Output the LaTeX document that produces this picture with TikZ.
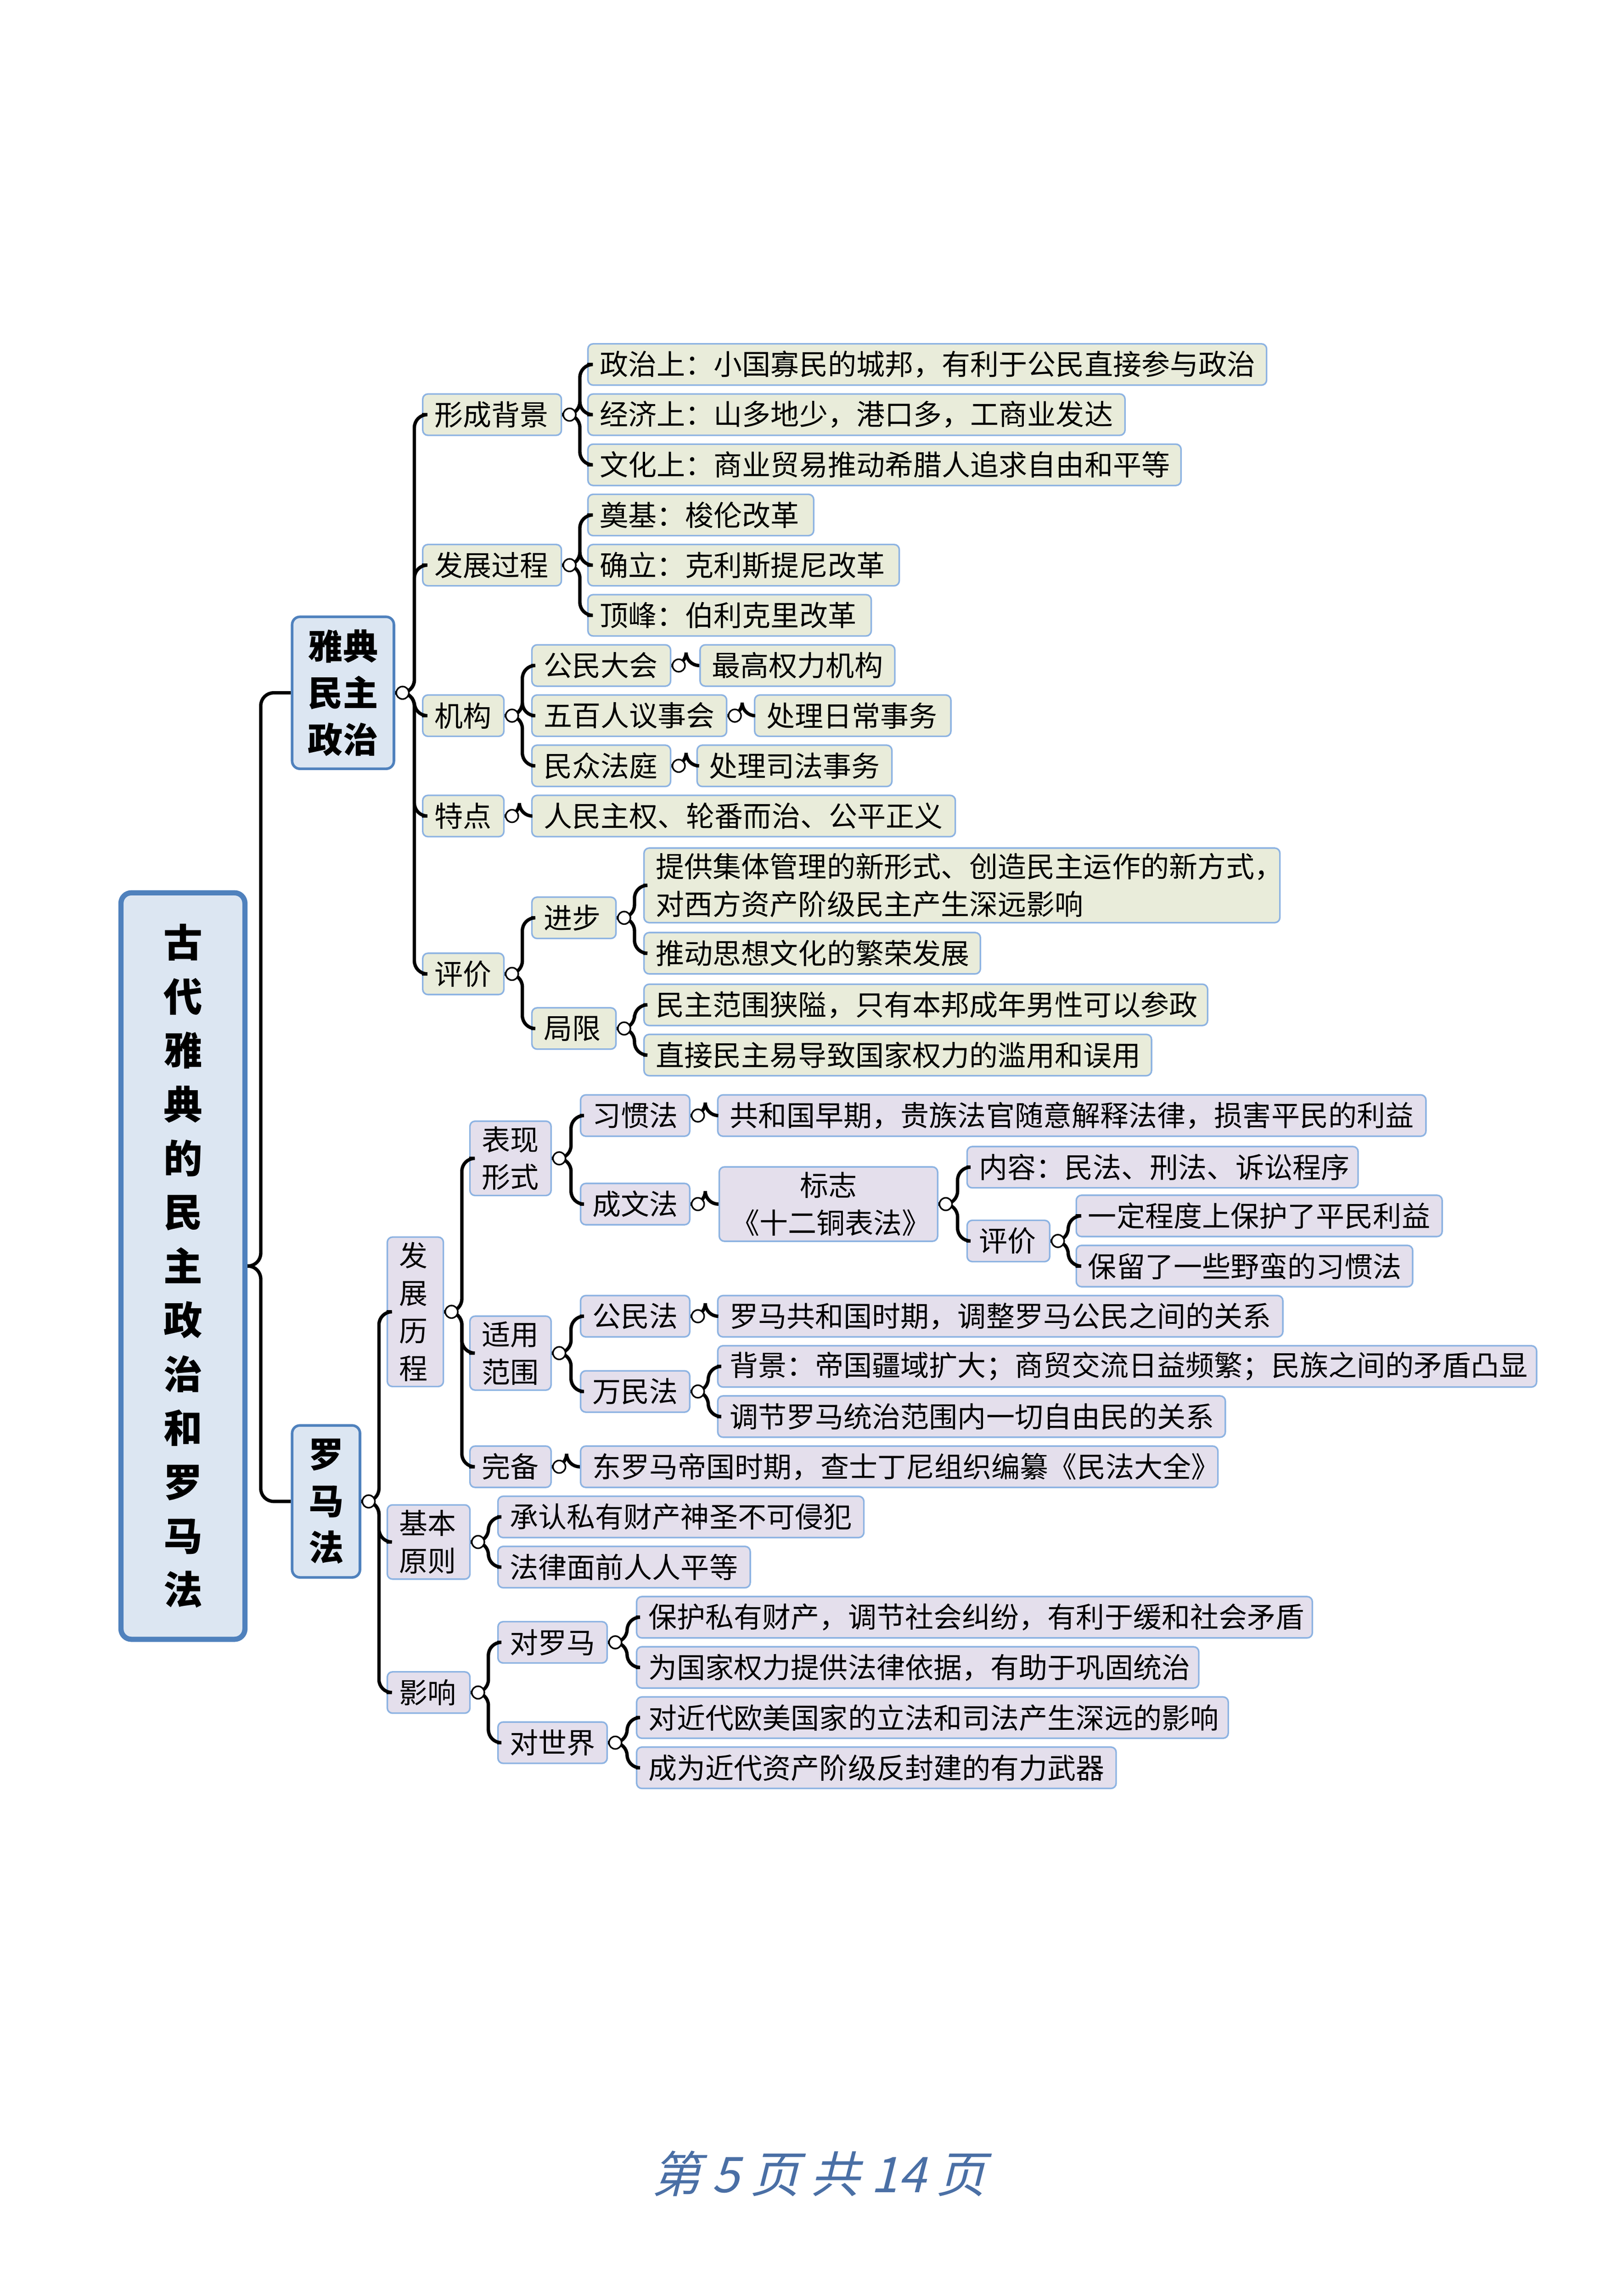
\documentclass[tikz,border=0pt]{standalone}
\usepackage{fontspec}
\setmainfont{Noto Sans CJK SC}
\newfontfamily\footfont[FakeSlant=0.25]{Noto Sans CJK SC}
\definecolor{athc}{HTML}{E9ECDA}
\definecolor{romc}{HTML}{E4DFEC}
\definecolor{rootc}{HTML}{DCE6F2}
\definecolor{bord}{HTML}{8DB3E2}
\definecolor{rootb}{HTML}{4F81BD}
\definecolor{footc}{HTML}{4A6FA5}
\tikzset{
 base/.style={draw=bord, line width=0.6pt, rounded corners=2pt, minimum height=0.56cm, inner xsep=0.16cm, inner ysep=2pt, align=left, font=\fontsize{11}{14.5}\selectfont},
 ath/.style={base, fill=athc},
 rom/.style={base, fill=romc},
 mid/.style={draw=rootb, line width=1pt, rounded corners=3pt, fill=rootc, align=center, inner sep=0pt, font=\fontsize{13.5}{18}\selectfont\bfseries},
 conn/.style={line width=1.3pt, rounded corners=5pt},
 dot/.style={circle, draw=black, fill=white, line width=0.6pt, inner sep=0pt, minimum width=0.13cm, minimum height=0.17cm},
}
\newcommand\bx[6]{\pgfmathsetmacro\tw{(#4-#3-16)*0.02}\node[#1, text width=\tw cm, anchor=west] (#2) at (#3,#5) {#6};}
\newcommand\br[3]{\draw[conn] (#1.east) -- ++(#3,0) |- (#2.west);}
\newcommand\dt[1]{\path (#1.east) ++(5,0) node[dot]{};}
\begin{document}
\begin{tikzpicture}[x=0.02cm,y=-0.02cm]
\useasboundingbox (0,0) rectangle (1100,1556);
% root and mid
\node[draw=rootb, line width=2pt, rounded corners=4pt, fill=rootc, minimum width=1.68cm, minimum height=10.12cm, align=center, font=\fontsize{15}{20.8}\selectfont\bfseries] (root) at (124,858) {古\\代\\雅\\典\\的\\民\\主\\政\\治\\和\\罗\\马\\法};
\node[mid, minimum width=1.38cm, minimum height=2.06cm] (ath) at (232.5,469.5) {雅典\\民主\\政治};
\node[mid, minimum width=0.92cm, minimum height=2.06cm] (rom) at (221,1017.5) {罗\\马\\法};
% Athens
\bx{ath}{xc}{286}{380}{281}{形成背景}
\bx{ath}{xc1}{398}{858}{247}{政治上：小国寡民的城邦，有利于公民直接参与政治}
\bx{ath}{xc2}{398}{762}{281}{经济上：山多地少，港口多，工商业发达}
\bx{ath}{xc3}{398}{800}{315}{文化上：商业贸易推动希腊人追求自由和平等}
\bx{ath}{fz}{286}{380}{383}{发展过程}
\bx{ath}{fz1}{398}{551}{349}{奠基：梭伦改革}
\bx{ath}{fz2}{398}{609}{383}{确立：克利斯提尼改革}
\bx{ath}{fz3}{398}{590}{417}{顶峰：伯利克里改革}
\bx{ath}{jg}{286}{341}{485}{机构}
\bx{ath}{jg1}{360}{454}{451}{公民大会}
\bx{ath}{jg1a}{474}{606}{451}{最高权力机构}
\bx{ath}{jg2}{360}{492}{485}{五百人议事会}
\bx{ath}{jg2a}{511}{644}{485}{处理日常事务}
\bx{ath}{jg3}{360}{454}{519}{民众法庭}
\bx{ath}{jg3a}{472}{604}{519}{处理司法事务}
\bx{ath}{td}{286}{341}{553}{特点}
\bx{ath}{td1}{360}{647}{553}{人民主权、轮番而治、公平正义}
\bx{ath}{pj}{286}{341}{660}{评价}
\bx{ath}{jb}{360}{417}{622}{进步}
\bx{ath}{jb1}{436}{867}{600}{提供集体管理的新形式、创造民主运作的新方式，\\对西方资产阶级民主产生深远影响}
\bx{ath}{jb2}{436}{664}{646}{推动思想文化的繁荣发展}
\bx{ath}{jx}{360}{417}{697}{局限}
\bx{ath}{jx1}{436}{818}{681}{民主范围狭隘，只有本邦成年男性可以参政}
\bx{ath}{jx2}{436}{780}{715}{直接民主易导致国家权力的滥用和误用}
% Rome
\bx{rom}{fzlc}{262}{300}{889}{发\\展\\历\\程}
\bx{rom}{bx}{318}{373}{785}{表现\\形式}
\bx{rom}{xgf}{393}{467}{756}{习惯法}
\bx{rom}{xgf1}{486}{966}{756}{共和国早期，贵族法官随意解释法律，损害平民的利益}
\bx{rom}{cwf}{393}{467}{816}{成文法}
\bx{rom,align=center}{bz}{487}{635}{816}{标志\\《十二铜表法》}
\bx{rom}{nr}{655}{920}{791}{内容：民法、刑法、诉讼程序}
\bx{rom}{pj2}{655}{711}{841}{评价}
\bx{rom}{pj2a}{729}{977}{824}{一定程度上保护了平民利益}
\bx{rom}{pj2b}{729}{957}{858}{保留了一些野蛮的习惯法}
\bx{rom}{sy}{318}{373}{917}{适用\\范围}
\bx{rom}{gmf}{393}{467}{892}{公民法}
\bx{rom}{gmf1}{486}{869}{892}{罗马共和国时期，调整罗马公民之间的关系}
\bx{rom}{wmf}{393}{467}{943}{万民法}
\bx{rom}{wmf1}{486}{1041}{926}{背景：帝国疆域扩大；商贸交流日益频繁；民族之间的矛盾凸显}
\bx{rom}{wmf2}{486}{830}{960}{调节罗马统治范围内一切自由民的关系}
\bx{rom}{wb}{318}{373}{994}{完备}
\bx{rom}{wb1}{393}{825}{994}{东罗马帝国时期，查士丁尼组织编纂《民法大全》}
\bx{rom}{jbyz}{262}{318}{1045}{基本\\原则}
\bx{rom}{jbyz1}{337}{585}{1028}{承认私有财产神圣不可侵犯}
\bx{rom}{jbyz2}{337}{508}{1062}{法律面前人人平等}
\bx{rom}{yx}{262}{318}{1147}{影响}
\bx{rom}{dlm}{337}{411}{1113}{对罗马}
\bx{rom}{dlm1}{431}{889}{1096}{保护私有财产，调节社会纠纷，有利于缓和社会矛盾}
\bx{rom}{dlm2}{431}{812}{1130}{为国家权力提供法律依据，有助于巩固统治}
\bx{rom}{dsj}{337}{411}{1181}{对世界}
\bx{rom}{dsj1}{431}{832}{1164}{对近代欧美国家的立法和司法产生深远的影响}
\bx{rom}{dsj2}{431}{756}{1198}{成为近代资产阶级反封建的有力武器}
% connectors
\br{root}{ath}{9}\br{root}{rom}{9}
\foreach \c in {xc,fz,jg,td,pj} {\br{ath}{\c}{13}}
\foreach \c in {xc1,xc2,xc3} {\br{xc}{\c}{12}}
\foreach \c in {fz1,fz2,fz3} {\br{fz}{\c}{12}}
\foreach \c in {jg1,jg2,jg3} {\br{jg}{\c}{12}}
\br{jg1}{jg1a}{10}\br{jg2}{jg2a}{10}\br{jg3}{jg3a}{10}\br{td}{td1}{10}
\br{pj}{jb}{12}\br{pj}{jx}{12}
\br{jb}{jb1}{12}\br{jb}{jb2}{12}\br{jx}{jx1}{12}\br{jx}{jx2}{12}
\foreach \c in {fzlc,jbyz,yx} {\br{rom}{\c}{12}}
\foreach \c in {bx,sy,wb} {\br{fzlc}{\c}{12}}
\br{bx}{xgf}{13}\br{bx}{cwf}{13}
\br{xgf}{xgf1}{10}\br{cwf}{bz}{10}
\br{bz}{nr}{13}\br{bz}{pj2}{13}
\br{pj2}{pj2a}{12}\br{pj2}{pj2b}{12}
\br{sy}{gmf}{13}\br{sy}{wmf}{13}
\br{gmf}{gmf1}{10}\br{wmf}{wmf1}{12}\br{wmf}{wmf2}{12}
\br{wb}{wb1}{10}
\br{jbyz}{jbyz1}{12}\br{jbyz}{jbyz2}{12}
\br{yx}{dlm}{12}\br{yx}{dsj}{12}
\br{dlm}{dlm1}{13}\br{dlm}{dlm2}{13}\br{dsj}{dsj1}{13}\br{dsj}{dsj2}{13}
% dots
\foreach \p in {ath,rom,xc,fz,jg,jg1,jg2,jg3,td,pj,jb,jx,fzlc,bx,xgf,cwf,bz,pj2,sy,gmf,wmf,wb,jbyz,yx,dlm,dsj} {\dt{\p}}
% footer
\node[font=\footfont\fontsize{19}{22}\selectfont, text=footc] (foot) at (555,1473) {第 5 页 共 14 页};
\end{tikzpicture}
\end{document}
